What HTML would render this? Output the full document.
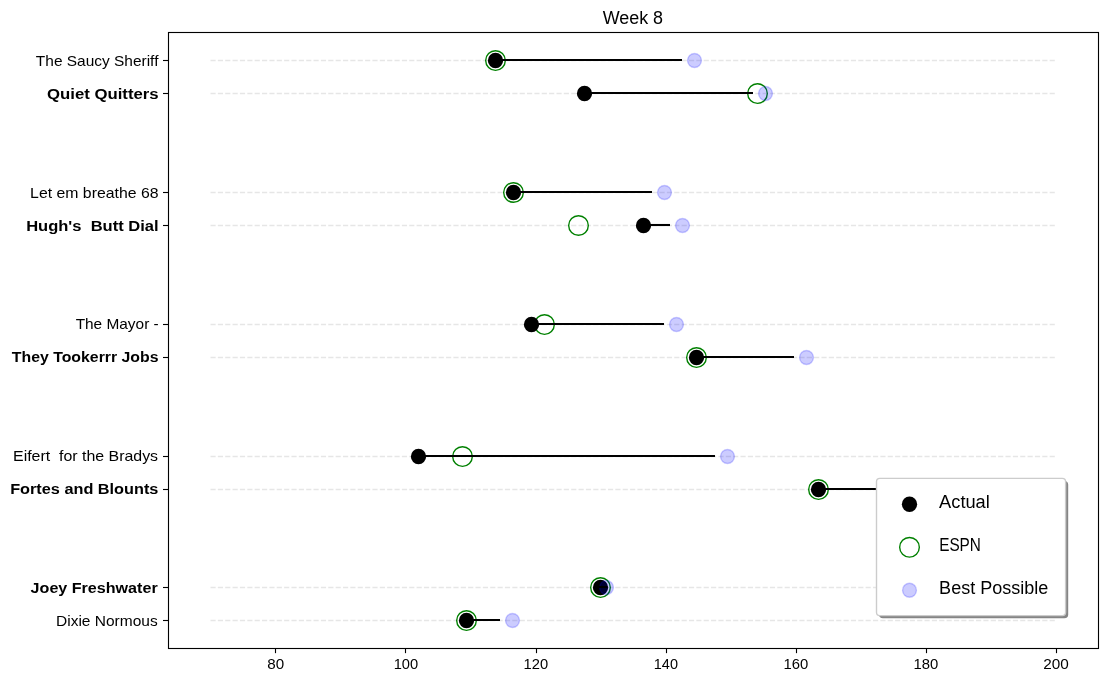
<!DOCTYPE html>
<html lang="en">
<head>
<meta charset="utf-8">
<title>Week 8</title>
<style>
html,body{margin:0;padding:0;background:#fff;}
body{width:1108px;height:682px;overflow:hidden;font-family:"Liberation Sans",sans-serif;}
svg{display:block;will-change:transform;}
text{font-family:"Liberation Sans",sans-serif;fill:#000;white-space:pre;}
.b{font-weight:bold;}
</style>
</head>
<body>
<svg width="1108" height="682" viewBox="0 0 1108 682">
<rect x="0" y="0" width="1108" height="682" fill="#ffffff"/>
<g stroke="#808080" stroke-opacity="0.2" stroke-width="1.39" stroke-dasharray="5.139 2.222" fill="none">
<line x1="210.50" y1="60.5" x2="1056.50" y2="60.5"/>
<line x1="210.50" y1="93.5" x2="1056.50" y2="93.5"/>
<line x1="210.50" y1="192.5" x2="1056.50" y2="192.5"/>
<line x1="210.50" y1="225.5" x2="1056.50" y2="225.5"/>
<line x1="210.50" y1="324.5" x2="1056.50" y2="324.5"/>
<line x1="210.50" y1="357.5" x2="1056.50" y2="357.5"/>
<line x1="210.50" y1="456.5" x2="1056.50" y2="456.5"/>
<line x1="210.50" y1="489.5" x2="1056.50" y2="489.5"/>
<line x1="210.50" y1="587.5" x2="1056.50" y2="587.5"/>
<line x1="210.50" y1="620.5" x2="1056.50" y2="620.5"/>
</g>
<g fill="none" stroke="#008000" stroke-width="1.39">
<circle cx="495.50" cy="60.50" r="9.82"/>
<circle cx="757.50" cy="93.50" r="9.82"/>
<circle cx="513.50" cy="192.50" r="9.82"/>
<circle cx="578.50" cy="225.50" r="9.82"/>
<circle cx="544.50" cy="324.50" r="9.82"/>
<circle cx="696.50" cy="357.50" r="9.82"/>
<circle cx="462.50" cy="456.50" r="9.82"/>
<circle cx="818.50" cy="489.50" r="9.82"/>
<circle cx="600.50" cy="587.50" r="9.82"/>
<circle cx="466.50" cy="620.50" r="9.82"/>
</g>
<g fill="#000000">
<circle cx="495.50" cy="60.50" r="7.64"/>
<circle cx="584.50" cy="93.50" r="7.64"/>
<circle cx="513.50" cy="192.50" r="7.64"/>
<circle cx="643.50" cy="225.50" r="7.64"/>
<circle cx="531.50" cy="324.50" r="7.64"/>
<circle cx="696.50" cy="357.50" r="7.64"/>
<circle cx="418.50" cy="456.50" r="7.64"/>
<circle cx="818.50" cy="489.50" r="7.64"/>
<circle cx="600.50" cy="587.50" r="7.64"/>
<circle cx="466.50" cy="620.50" r="7.64"/>
</g>
<g>
<circle cx="694.50" cy="60.50" r="6.94" fill="#0000ff" fill-opacity="0.2"/><circle cx="694.50" cy="60.50" r="6.94" fill="none" stroke="#0000ff" stroke-opacity="0.2" stroke-width="1.39"/>
<circle cx="765.50" cy="93.50" r="6.94" fill="#0000ff" fill-opacity="0.2"/><circle cx="765.50" cy="93.50" r="6.94" fill="none" stroke="#0000ff" stroke-opacity="0.2" stroke-width="1.39"/>
<circle cx="664.50" cy="192.50" r="6.94" fill="#0000ff" fill-opacity="0.2"/><circle cx="664.50" cy="192.50" r="6.94" fill="none" stroke="#0000ff" stroke-opacity="0.2" stroke-width="1.39"/>
<circle cx="682.50" cy="225.50" r="6.94" fill="#0000ff" fill-opacity="0.2"/><circle cx="682.50" cy="225.50" r="6.94" fill="none" stroke="#0000ff" stroke-opacity="0.2" stroke-width="1.39"/>
<circle cx="676.50" cy="324.50" r="6.94" fill="#0000ff" fill-opacity="0.2"/><circle cx="676.50" cy="324.50" r="6.94" fill="none" stroke="#0000ff" stroke-opacity="0.2" stroke-width="1.39"/>
<circle cx="806.50" cy="357.50" r="6.94" fill="#0000ff" fill-opacity="0.2"/><circle cx="806.50" cy="357.50" r="6.94" fill="none" stroke="#0000ff" stroke-opacity="0.2" stroke-width="1.39"/>
<circle cx="727.50" cy="456.50" r="6.94" fill="#0000ff" fill-opacity="0.2"/><circle cx="727.50" cy="456.50" r="6.94" fill="none" stroke="#0000ff" stroke-opacity="0.2" stroke-width="1.39"/>
<circle cx="606.50" cy="587.50" r="6.94" fill="#0000ff" fill-opacity="0.2"/><circle cx="606.50" cy="587.50" r="6.94" fill="none" stroke="#0000ff" stroke-opacity="0.2" stroke-width="1.39"/>
<circle cx="512.50" cy="620.50" r="6.94" fill="#0000ff" fill-opacity="0.2"/><circle cx="512.50" cy="620.50" r="6.94" fill="none" stroke="#0000ff" stroke-opacity="0.2" stroke-width="1.39"/>
</g>
<g stroke="#000000" stroke-width="2.08" fill="none">
<line x1="495.00" y1="60" x2="682.00" y2="60"/>
<line x1="584.00" y1="93" x2="753.00" y2="93"/>
<line x1="513.00" y1="192" x2="652.00" y2="192"/>
<line x1="643.00" y1="225" x2="670.00" y2="225"/>
<line x1="531.00" y1="324" x2="664.00" y2="324"/>
<line x1="696.00" y1="357" x2="794.00" y2="357"/>
<line x1="418.00" y1="456" x2="715.00" y2="456"/>
<line x1="818.00" y1="489" x2="880.00" y2="489"/>
<line x1="599.00" y1="587" x2="607.50" y2="587"/>
<line x1="466.00" y1="620" x2="500.00" y2="620"/>
</g>
<g stroke="#000000" stroke-width="1.11" fill="none">
<rect x="168.5" y="32.5" width="930.0" height="616.0"/>
<line x1="163.02" y1="60.5" x2="168.50" y2="60.5"/>
<line x1="163.02" y1="93.5" x2="168.50" y2="93.5"/>
<line x1="163.02" y1="192.5" x2="168.50" y2="192.5"/>
<line x1="163.02" y1="225.5" x2="168.50" y2="225.5"/>
<line x1="163.02" y1="324.5" x2="168.50" y2="324.5"/>
<line x1="163.02" y1="357.5" x2="168.50" y2="357.5"/>
<line x1="163.02" y1="456.5" x2="168.50" y2="456.5"/>
<line x1="163.02" y1="489.5" x2="168.50" y2="489.5"/>
<line x1="163.02" y1="587.5" x2="168.50" y2="587.5"/>
<line x1="163.02" y1="620.5" x2="168.50" y2="620.5"/>
<line x1="275.5" y1="648.50" x2="275.5" y2="653.15"/>
<line x1="405.5" y1="648.50" x2="405.5" y2="653.15"/>
<line x1="536.5" y1="648.50" x2="536.5" y2="653.15"/>
<line x1="666.5" y1="648.50" x2="666.5" y2="653.15"/>
<line x1="796.5" y1="648.50" x2="796.5" y2="653.15"/>
<line x1="926.5" y1="648.50" x2="926.5" y2="653.15"/>
<line x1="1056.5" y1="648.50" x2="1056.5" y2="653.15"/>
</g>
<text x="35.88" y="66.00" font-size="14.50" textLength="122.56" lengthAdjust="spacingAndGlyphs" xml:space="preserve">The Saucy Sheriff</text>
<text x="46.99" y="99.00" font-size="14.50" textLength="111.68" lengthAdjust="spacingAndGlyphs" xml:space="preserve" class="b">Quiet Quitters</text>
<text x="30.14" y="198.00" font-size="14.50" textLength="128.37" lengthAdjust="spacingAndGlyphs" xml:space="preserve">Let em breathe 68</text>
<text x="26.15" y="231.00" font-size="14.50" textLength="132.50" lengthAdjust="spacingAndGlyphs" xml:space="preserve" class="b">Hugh's  Butt Dial</text>
<text x="75.65" y="329.00" font-size="14.50" textLength="83.05" lengthAdjust="spacingAndGlyphs" xml:space="preserve">The Mayor -</text>
<text x="11.85" y="362.00" font-size="14.50" textLength="146.65" lengthAdjust="spacingAndGlyphs" xml:space="preserve" class="b">They Tookerrr Jobs</text>
<text x="13.03" y="461.00" font-size="14.50" textLength="145.05" lengthAdjust="spacingAndGlyphs" xml:space="preserve">Eifert  for the Bradys</text>
<text x="10.16" y="494.00" font-size="14.50" textLength="148.26" lengthAdjust="spacingAndGlyphs" xml:space="preserve" class="b">Fortes and Blounts</text>
<text x="30.64" y="593.00" font-size="14.50" textLength="127.03" lengthAdjust="spacingAndGlyphs" xml:space="preserve" class="b">Joey Freshwater</text>
<text x="55.99" y="626.00" font-size="14.50" textLength="101.71" lengthAdjust="spacingAndGlyphs" xml:space="preserve">Dixie Normous</text>
<text x="267.38" y="669.00" font-size="14.50" textLength="16.88" lengthAdjust="spacingAndGlyphs">80</text>
<text x="393.67" y="669.00" font-size="14.50" textLength="24.52" lengthAdjust="spacingAndGlyphs">100</text>
<text x="523.64" y="669.00" font-size="14.50" textLength="24.53" lengthAdjust="spacingAndGlyphs">120</text>
<text x="653.81" y="669.00" font-size="14.50" textLength="24.16" lengthAdjust="spacingAndGlyphs">140</text>
<text x="783.42" y="669.00" font-size="14.50" textLength="24.76" lengthAdjust="spacingAndGlyphs">160</text>
<text x="913.42" y="669.00" font-size="14.50" textLength="24.76" lengthAdjust="spacingAndGlyphs">180</text>
<text x="1043.32" y="669.00" font-size="14.50" textLength="25.56" lengthAdjust="spacingAndGlyphs">200</text>
<text x="602.67" y="24.00" font-size="18.00" textLength="60.44" lengthAdjust="spacingAndGlyphs">Week 8</text>
<rect x="879.1" y="481.0" width="189.1" height="137.2" rx="3.8" ry="3.8" fill="#858585"/>
<rect x="876.5" y="478.4" width="189.1" height="137.2" rx="3.3" ry="3.3" fill="#ffffff" stroke="#cccccc" stroke-width="1.39"/>
<circle cx="909.50" cy="504.25" r="7.64" fill="#000000"/>
<circle cx="909.50" cy="547.25" r="9.82" fill="none" stroke="#008000" stroke-width="1.39"/>
<circle cx="909.50" cy="590.25" r="6.94" fill="#0000ff" fill-opacity="0.2"/><circle cx="909.50" cy="590.25" r="6.94" fill="none" stroke="#0000ff" stroke-opacity="0.2" stroke-width="1.39"/>
<text x="939.12" y="508.00" font-size="18.00" textLength="50.71" lengthAdjust="spacingAndGlyphs">Actual</text>
<text x="939.16" y="551.00" font-size="18.00" textLength="41.74" lengthAdjust="spacingAndGlyphs">ESPN</text>
<text x="939.12" y="594.00" font-size="18.00" textLength="109.20" lengthAdjust="spacingAndGlyphs">Best Possible</text>
</svg>
</body>
</html>
